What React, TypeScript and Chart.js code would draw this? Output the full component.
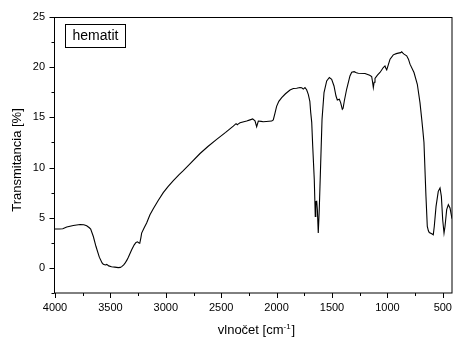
import { useEffect, useRef } from "react";
import { Chart, registerables } from "chart.js";

Chart.register(...registerables);

// IR spectrum of hematite: wavenumber (cm-1) and transmittance (%)
const wavenumbers = [
  4000, 3960, 3930, 3894, 3835, 3774, 3740, 3714, 3690, 3678, 3654, 3630, 3600, 3575, 3564, 3545,
  3533, 3515, 3490, 3460, 3429, 3410, 3398, 3380, 3368, 3350, 3338, 3308, 3285, 3269, 3255, 3245,
  3235, 3225, 3218, 3195, 3173, 3143, 3113, 3070, 3023, 2980, 2932, 2880, 2842, 2780, 2691, 2620,
  2541, 2460, 2391, 2366, 2355, 2345, 2330, 2270, 2240, 2216, 2195, 2180, 2165, 2140, 2120, 2044,
  2030, 2015, 2000, 1980, 1954, 1920, 1879, 1849, 1819, 1789, 1773, 1759, 1744, 1729, 1714, 1700,
  1692, 1683, 1674, 1660, 1651, 1646, 1638, 1632, 1624, 1615, 1602, 1590, 1572, 1548, 1524, 1503,
  1482, 1464, 1452, 1434, 1422, 1407, 1400, 1389, 1368, 1338, 1322, 1300, 1280, 1263, 1202, 1160,
  1142, 1135, 1127, 1120, 1112, 1090, 1067, 1037, 1022, 1014, 1006, 990, 976, 947, 920, 902,
  880, 871, 860, 850, 826, 810, 796, 760, 730, 706, 690, 681, 670, 652, 640, 630,
  622, 600, 586, 577, 561, 541, 525, 513, 501, 489, 480, 465, 450, 435, 417,
];

const transmittance = [
  3.87, 3.87, 3.9, 4.07, 4.23, 4.33, 4.3, 4.2, 4.0, 3.87, 3.13, 2.13, 1.07, 0.5, 0.37, 0.3,
  0.35, 0.2, 0.12, 0.08, 0.03, 0.05, 0.13, 0.3, 0.47, 0.8, 1.07, 1.8, 2.3, 2.53, 2.6, 2.5,
  2.45, 3.0, 3.47, 4.0, 4.47, 5.3, 5.9, 6.7, 7.5, 8.1, 8.7, 9.3, 9.7, 10.4, 11.4, 12.1,
  12.8, 13.5, 14.13, 14.37, 14.27, 14.35, 14.47, 14.63, 14.75, 14.85, 14.65, 14.07, 14.63, 14.6, 14.57, 14.63,
  14.75, 15.4, 16.1, 16.6, 16.97, 17.35, 17.73, 17.87, 17.9, 17.97, 17.95, 17.82, 17.97, 17.75, 17.3, 16.6,
  15.47, 14.5, 12.13, 8.8, 5.13, 6.6, 6.63, 5.8, 3.47, 5.8, 10.47, 14.8, 17.47, 18.63, 18.97, 18.8,
  18.13, 17.13, 16.73, 16.8, 16.47, 15.8, 15.9, 16.63, 17.8, 19.13, 19.5, 19.55, 19.45, 19.4, 19.37, 19.2,
  19.07, 18.6, 17.97, 18.5, 18.87, 19.2, 19.47, 19.97, 20.13, 19.9, 19.73, 20.3, 20.8, 21.23, 21.35, 21.4,
  21.45, 21.53, 21.4, 21.3, 21.13, 20.8, 20.3, 19.47, 18.3, 16.47, 14.8, 13.8, 12.5, 7.13, 4.13, 3.7,
  3.53, 3.4, 3.3, 4.13, 6.13, 7.63, 7.97, 7.13, 4.8, 3.47, 4.13, 5.8, 6.3, 5.97, 4.9,
];

const xMajorTicks = [4000, 3500, 3000, 2500, 2000, 1500, 1000, 500];
const xMinorTicks = [3750, 3250, 2750, 2250, 1750, 1250, 750];
const yMajorTicks = [0, 5, 10, 15, 20, 25];
const yMinorTicks = [-2.5, 2.5, 7.5, 12.5, 17.5, 22.5];

const X_MIN = 417;
const X_MAX = 4000;
const Y_MIN = -2.5;
const Y_MAX = 25;

const xTitle = "vlnočet [cm";
const xTitleSup = "-1";
const xTitleEnd = "]";
const yTitle = "Transmitancia [%]";
const sampleName = "hematit";

const FONT = "'Liberation Sans', Arial, sans-serif";

// Frame, outward tick marks, axis titles and the sample label box
const decorations = {
  id: "decorations",
  afterDraw(chart: any) {
    const { ctx, chartArea } = chart;
    const { left, right, top, bottom } = chartArea;
    const xs = chart.scales.x;
    const ys = chart.scales.y;
    ctx.save();
    ctx.strokeStyle = "#000";
    ctx.lineWidth = 1;

    // plot frame
    ctx.strokeRect(Math.round(left) - 0.5, Math.round(top) + 0.5, Math.round(right - left) + 0.5, Math.round(bottom - top) - 0.5);

    // bottom ticks (outward)
    const bx = Math.round(bottom);
    const drawXTick = (v: number, len: number) => {
      const px = Math.round(xs.getPixelForValue(v)) + 0.5;
      ctx.beginPath();
      ctx.moveTo(px, bx);
      ctx.lineTo(px, bx + len);
      ctx.stroke();
    };
    xMajorTicks.forEach((v) => drawXTick(v, 5));
    xMinorTicks.forEach((v) => drawXTick(v, 3));

    // left ticks (outward)
    const lx = Math.round(left) - 0.5;
    const drawYTick = (v: number, len: number) => {
      const py = Math.round(ys.getPixelForValue(v)) + 0.5;
      ctx.beginPath();
      ctx.moveTo(lx, py);
      ctx.lineTo(lx - len, py);
      ctx.stroke();
    };
    yMajorTicks.forEach((v) => drawYTick(v, 5));
    yMinorTicks.forEach((v) => drawYTick(v, 3));

    ctx.fillStyle = "#000";

    // y axis title
    ctx.save();
    ctx.translate(17.5, 160);
    ctx.rotate(-Math.PI / 2);
    ctx.font = `13px ${FONT}`;
    ctx.textAlign = "center";
    ctx.textBaseline = "middle";
    ctx.fillText(yTitle, 0, 0);
    ctx.restore();

    // x axis title with superscript
    ctx.textBaseline = "alphabetic";
    ctx.textAlign = "left";
    const mainFont = `13px ${FONT}`;
    const supFont = `8px ${FONT}`;
    ctx.font = mainFont;
    const w1 = ctx.measureText(xTitle).width;
    const w3 = ctx.measureText(xTitleEnd).width;
    ctx.font = supFont;
    const w2 = ctx.measureText(xTitleSup).width;
    const total = w1 + w2 + 1 + w3;
    const cx = 256.5;
    let x0 = cx - total / 2;
    const base = 334;
    ctx.font = mainFont;
    ctx.fillText(xTitle, x0, base);
    x0 += w1;
    ctx.font = supFont;
    ctx.fillText(xTitleSup, x0, base - 5);
    x0 += w2 + 1;
    ctx.font = mainFont;
    ctx.fillText(xTitleEnd, x0, base);

    // sample name box
    ctx.strokeRect(65.5, 24.5, 60, 23);
    ctx.font = `14px ${FONT}`;
    ctx.textAlign = "center";
    ctx.textBaseline = "middle";
    ctx.fillText(sampleName, 95.5, 36.5);

    ctx.restore();
  },
};

export default function App() {
  const canvasRef = useRef<HTMLCanvasElement | null>(null);

  useEffect(() => {
    const canvas = canvasRef.current;
    if (!canvas) return;
    const points = wavenumbers.map((w, i) => ({ x: w, y: transmittance[i] }));

    const chart = new Chart(canvas, {
      type: "line",
      data: {
        datasets: [
          {
            label: sampleName,
            data: points,
            borderColor: "#000",
            borderWidth: 1.1,
            pointRadius: 0,
            tension: 0,
            fill: false,
          },
        ],
      },
      options: {
        animation: false,
        responsive: false,
        devicePixelRatio: 1,
        layout: { padding: { top: 17, right: 1, left: 0, bottom: 0 } },
        plugins: {
          legend: { display: false },
          tooltip: { enabled: false },
          title: { display: false },
        },
        scales: {
          x: {
            type: "linear",
            reverse: true,
            min: X_MIN,
            max: X_MAX,
            grid: { display: false, drawTicks: false },
            border: { display: false },
            afterBuildTicks: (scale: any) => {
              scale.ticks = xMajorTicks.map((v) => ({ value: v }));
            },
            afterFit: (scale: any) => {
              scale.height = 45;
              scale.paddingLeft = 0;
              scale.paddingRight = 0;
            },
            ticks: {
              padding: 8,
              maxRotation: 0,
              autoSkip: false,
              color: "#000",
              font: { family: FONT, size: 11 },
              callback: (v: any) => String(v),
            },
          },
          y: {
            type: "linear",
            min: Y_MIN,
            max: Y_MAX,
            grid: { display: false, drawTicks: false },
            border: { display: false },
            afterBuildTicks: (scale: any) => {
              scale.ticks = yMajorTicks.map((v) => ({ value: v }));
            },
            afterFit: (scale: any) => {
              scale.width = 55;
              scale.paddingTop = 0;
              scale.paddingBottom = 0;
            },
            ticks: {
              padding: 10,
              autoSkip: false,
              color: "#000",
              font: { family: FONT, size: 11 },
              callback: (v: any) => String(v),
            },
          },
        },
      },
      plugins: [decorations],
    });

    return () => chart.destroy();
  }, []);

  return (
    <div style={{ position: "absolute", left: 0, top: 0, width: 453, height: 338, background: "#fff" }}>
      <canvas ref={canvasRef} width={453} height={338} style={{ display: "block" }} />
    </div>
  );
}
